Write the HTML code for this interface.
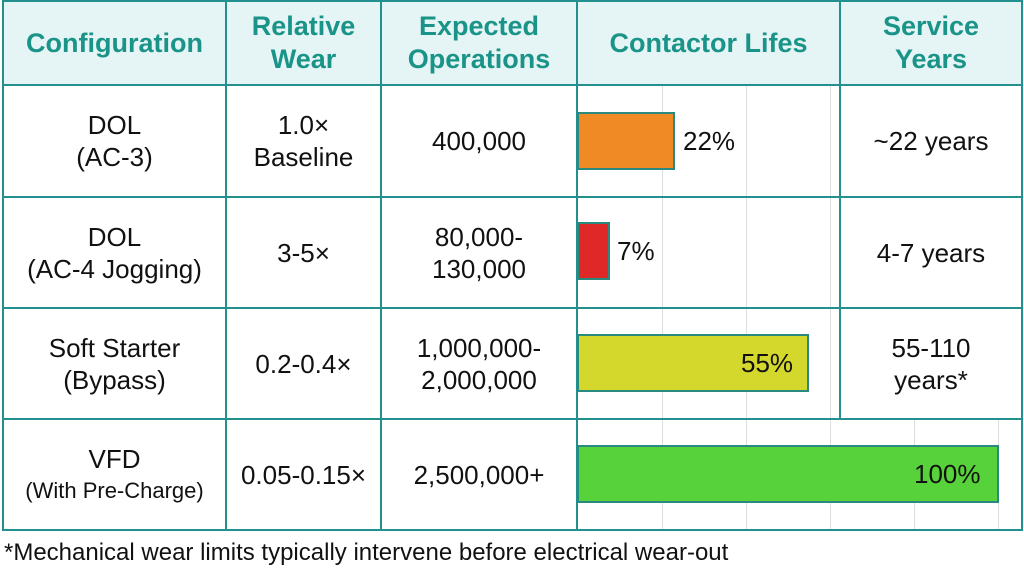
<!DOCTYPE html>
<html><head><style>
body{margin:0;width:1024px;height:572px;background:#fff;font-family:"Liberation Sans",sans-serif;position:relative;overflow:hidden}
.a{position:absolute}
.h{background:#e5f4f4}
.ln{position:absolute;background:#21908f}
.g{position:absolute;background:#ddd;width:1px}
.t{position:absolute;display:flex;flex-direction:column;align-items:center;justify-content:center;text-align:center;color:#111;font-size:26px;line-height:32px;white-space:nowrap}
.th{color:#1a9488;font-weight:bold;font-size:27px;line-height:33px}
.bar{position:absolute;border:2px solid #2a8a80;box-sizing:border-box}
</style></head><body>
<div class="a h" style="left:3px;top:0;width:1019px;height:85px"></div>
<div class="g" style="left:662px;top:85px;height:444px"></div>
<div class="g" style="left:746px;top:85px;height:444px"></div>
<div class="g" style="left:830px;top:85px;height:444px"></div>
<div class="g" style="left:914px;top:419px;height:110px"></div>
<div class="g" style="left:998px;top:419px;height:110px"></div>
<div class="ln" style="left:2px;top:0;width:2px;height:531px"></div>
<div class="ln" style="left:1021px;top:0;width:2px;height:531px"></div>
<div class="ln" style="left:225px;top:0;width:2px;height:531px"></div>
<div class="ln" style="left:380px;top:0;width:2px;height:531px"></div>
<div class="ln" style="left:576px;top:0;width:2px;height:531px"></div>
<div class="ln" style="left:839px;top:0;width:2px;height:419px"></div>
<div class="ln" style="left:2px;top:0;width:1021px;height:2px"></div>
<div class="ln" style="left:2px;top:84px;width:1021px;height:2px"></div>
<div class="ln" style="left:2px;top:196px;width:1021px;height:2px"></div>
<div class="ln" style="left:2px;top:307px;width:1021px;height:2px"></div>
<div class="ln" style="left:2px;top:418px;width:1021px;height:2px"></div>
<div class="ln" style="left:2px;top:529px;width:1021px;height:2px"></div>
<div class="t th" style="left:4px;top:2px;width:221px;height:82px">Configuration</div>
<div class="t th" style="left:227px;top:2px;width:153px;height:82px"><div>Relative</div><div>Wear</div></div>
<div class="t th" style="left:382px;top:2px;width:194px;height:82px"><div>Expected</div><div>Operations</div></div>
<div class="t th" style="left:578px;top:2px;width:261px;height:82px">Contactor Lifes</div>
<div class="t th" style="left:841px;top:2px;width:180px;height:82px"><div>Service</div><div>Years</div></div>
<div class="t" style="left:4px;top:86px;width:221px;height:110px"><div>DOL</div><div>(AC-3)</div></div>
<div class="t" style="left:227px;top:86px;width:153px;height:110px"><div>1.0×</div><div>Baseline</div></div>
<div class="t" style="left:382px;top:86px;width:194px;height:110px">400,000</div>
<div class="bar" style="left:577px;top:112px;width:98px;height:58px;background:#f08a24"></div>
<div class="t" style="left:683px;top:112px;height:58px">22%</div>
<div class="t" style="left:841px;top:86px;width:180px;height:110px">~22 years</div>
<div class="t" style="left:4px;top:198px;width:221px;height:109px"><div>DOL</div><div>(AC-4 Jogging)</div></div>
<div class="t" style="left:227px;top:198px;width:153px;height:109px">3-5×</div>
<div class="t" style="left:382px;top:198px;width:194px;height:109px"><div>80,000-</div><div>130,000</div></div>
<div class="bar" style="left:577px;top:222px;width:33px;height:58px;background:#e02828"></div>
<div class="t" style="left:617px;top:222px;height:58px">7%</div>
<div class="t" style="left:841px;top:198px;width:180px;height:109px">4-7 years</div>
<div class="t" style="left:4px;top:309px;width:221px;height:109px"><div>Soft Starter</div><div>(Bypass)</div></div>
<div class="t" style="left:227px;top:309px;width:153px;height:109px">0.2-0.4×</div>
<div class="t" style="left:382px;top:309px;width:194px;height:109px"><div>1,000,000-</div><div>2,000,000</div></div>
<div class="bar" style="left:577px;top:334px;width:232px;height:58px;background:#d4d82c"></div>
<div class="t" style="left:741px;top:334px;height:58px">55%</div>
<div class="t" style="left:841px;top:309px;width:180px;height:109px"><div>55-110</div><div>years*</div></div>
<div class="t" style="left:4px;top:420px;width:221px;height:109px"><div>VFD</div><div style="font-size:22px">(With Pre-Charge)</div></div>
<div class="t" style="left:227px;top:420px;width:153px;height:109px">0.05-0.15×</div>
<div class="t" style="left:382px;top:420px;width:194px;height:109px">2,500,000+</div>
<div class="bar" style="left:577px;top:445px;width:422px;height:58px;background:#58d23a"></div>
<div class="t" style="left:914px;top:445px;height:58px">100%</div>
<div class="a" style="left:4px;top:539px;font-size:24px;color:#111;white-space:nowrap">*Mechanical wear limits typically intervene before electrical wear-out</div>
</body></html>
